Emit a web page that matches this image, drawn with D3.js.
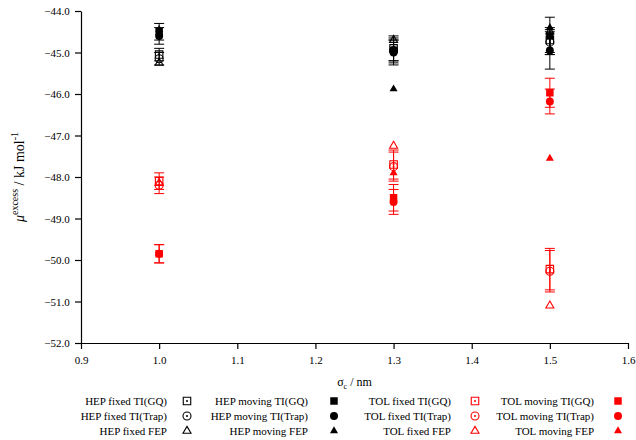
<!DOCTYPE html>
<html>
<head>
<meta charset="utf-8">
<script src="https://cdn.jsdelivr.net/npm/d3@7"></script>
<style>
body { margin: 0; background: #fff; }
text { font-family: "Liberation Serif", "Times New Roman", serif; }
</style>
</head>
<body>
<div id="chart"></div>
<script>
const chart_width = 636;
const chart_height = 440;

// sigma_c values
const sigma = [1.0, 1.3, 1.5];
const x_ticks = [0.9, 1.0, 1.1, 1.2, 1.3, 1.4, 1.5, 1.6];
const y_ticks = [-44, -45, -46, -47, -48, -49, -50, -51, -52];

// HEP fixed (black, open)
const hep_fixed_gq = [-45.05, -44.9, -44.7];
const hep_fixed_gq_err = [0.15, 0.3, 0.3];
const hep_fixed_trap = [-45.15, -44.95, -44.75];
const hep_fixed_trap_err = [0.15, 0.25, 0.3];
const hep_fixed_fep = [-45.25, -44.7, -44.5];
// HEP moving (black, filled)
const hep_moving_gq = [-44.5, -44.95, -44.6];
const hep_moving_gq_err = [0.2, 0.3, 0.45];
const hep_moving_trap = [-44.6, -45.0, -44.95];
const hep_moving_trap_err = [0.2, 0.3, 0.45];
const hep_moving_fep = [-44.45, -45.88, -44.4];
// TOL fixed (red, open)
const tol_fixed_gq = [-48.1, -47.7, -50.22];
const tol_fixed_gq_err = [0.2, 0.35, 0.5];
const tol_fixed_trap = [-48.2, -47.75, -50.27];
const tol_fixed_trap_err = [0.2, 0.35, 0.5];
const tol_fixed_fep = [-48.15, -47.25, -51.1];
// TOL moving (red, filled)
const tol_moving_gq = [-49.85, -48.5, -45.97];
const tol_moving_gq_err = [0.22, 0.32, 0.35];
const tol_moving_trap = [-49.85, -48.6, -46.18];
const tol_moving_trap_err = [0.22, 0.3, 0.3];
const tol_moving_fep = [-49.85, -47.9, -47.55];

const series = [
    {name: 'HEP fixed TI(GQ)', v: hep_fixed_gq, err: hep_fixed_gq_err, shape: 'square', color: '#000', filled: false},
    {name: 'HEP moving TI(GQ)', v: hep_moving_gq, err: hep_moving_gq_err, shape: 'square', color: '#000', filled: true},
    {name: 'TOL fixed TI(GQ)', v: tol_fixed_gq, err: tol_fixed_gq_err, shape: 'square', color: '#f00', filled: false},
    {name: 'TOL moving TI(GQ)', v: tol_moving_gq, err: tol_moving_gq_err, shape: 'square', color: '#f00', filled: true},
    {name: 'HEP fixed TI(Trap)', v: hep_fixed_trap, err: hep_fixed_trap_err, shape: 'circle', color: '#000', filled: false},
    {name: 'HEP moving TI(Trap)', v: hep_moving_trap, err: hep_moving_trap_err, shape: 'circle', color: '#000', filled: true},
    {name: 'TOL fixed TI(Trap)', v: tol_fixed_trap, err: tol_fixed_trap_err, shape: 'circle', color: '#f00', filled: false},
    {name: 'TOL moving TI(Trap)', v: tol_moving_trap, err: tol_moving_trap_err, shape: 'circle', color: '#f00', filled: true},
    {name: 'HEP fixed FEP', v: hep_fixed_fep, err: null, shape: 'triangle', color: '#000', filled: false},
    {name: 'HEP moving FEP', v: hep_moving_fep, err: null, shape: 'triangle', color: '#000', filled: true},
    {name: 'TOL fixed FEP', v: tol_fixed_fep, err: null, shape: 'triangle', color: '#f00', filled: false},
    {name: 'TOL moving FEP', v: tol_moving_fep, err: null, shape: 'triangle', color: '#f00', filled: true}
];

const plot = {left: 81, right: 628, top: 11, bottom: 343};

const svg = d3.select('#chart')
    .append('svg')
    .attr('width', chart_width)
    .attr('height', chart_height);

// Scales
const x_scale = d3.scaleLinear()
    .domain([0.9, 1.6])
    .range([plot.left, plot.right]);

const y_scale = d3.scaleLinear()
    .domain([-52, -44])
    .range([plot.bottom, plot.top]);

// Axes
const x_axis = d3.axisBottom(x_scale)
    .tickValues(x_ticks)
    .tickSize(6)
    .tickSizeOuter(0)
    .tickFormat(d3.format('.1f'));

svg.append('g')
    .attr('class', 'x-axis')
    .attr('transform', 'translate(0,' + plot.bottom + ')')
    .call(x_axis);

const y_axis = d3.axisLeft(y_scale)
    .tickValues(y_ticks)
    .tickSize(6)
    .tickSizeOuter(0)
    .tickFormat(d3.format('.1f'));

svg.append('g')
    .attr('class', 'y-axis')
    .attr('transform', 'translate(' + plot.left + ',0)')
    .call(y_axis);

svg.selectAll('.x-axis, .y-axis').attr('font-family', null);
svg.selectAll('.x-axis text, .y-axis text')
    .attr('font-size', 11)
    .attr('fill', '#000');
svg.selectAll('.x-axis text').attr('dy', '1.1em');
svg.selectAll('.y-axis text').attr('dx', '-0.2em');
svg.selectAll('.domain, .tick line').attr('stroke', '#000').attr('stroke-width', 1.2);

// Axis titles
const xl = svg.append('text')
    .attr('x', (plot.left + plot.right) / 2)
    .attr('y', 386)
    .attr('text-anchor', 'middle')
    .attr('font-size', 12);
xl.append('tspan').text('σ');
xl.append('tspan').attr('font-size', 8).attr('dy', 3).text('c');
xl.append('tspan').attr('dy', -3).text(' / nm');

const yl = svg.append('text')
    .attr('transform', 'translate(24,' + ((plot.top + plot.bottom) / 2) + ') rotate(-90)')
    .attr('text-anchor', 'middle')
    .attr('font-size', 14);
yl.append('tspan').attr('font-style', 'italic').text('μ');
yl.append('tspan').attr('font-size', 10).attr('dy', -6).text('excess');
yl.append('tspan').attr('dy', 6).text(' / kJ mol');
yl.append('tspan').attr('font-size', 10).attr('dy', -6).text('-1');

// Markers
const shapes = {
    square: d3.symbol(d3.symbolSquare, 56),
    circle: d3.symbol(d3.symbolCircle, 50),
    triangle: d3.symbol(d3.symbolTriangle, 28)
};

function drawMarker(g, s) {
    g.append('path')
        .attr('d', shapes[s.shape]())
        .attr('fill', s.filled ? s.color : '#fff')
        .attr('fill-opacity', s.filled ? 1 : 0)
        .attr('stroke', s.color)
        .attr('stroke-width', s.filled ? 0 : 1.1);
    if (!s.filled && s.shape !== 'triangle') {
        g.append('circle').attr('r', 1).attr('fill', s.color);
    }
}

const cap = 5;
series.forEach(s => {
    const g = svg.append('g').attr('class', 'series');
    if (s.err) {
        sigma.forEach((x, i) => {
            const cx = x_scale(x);
            const y0 = y_scale(s.v[i] - s.err[i]);
            const y1 = y_scale(s.v[i] + s.err[i]);
            g.append('line').attr('x1', cx).attr('x2', cx).attr('y1', y0).attr('y2', y1)
                .attr('stroke', s.color).attr('stroke-width', 1);
            [y0, y1].forEach(yy => {
                g.append('line').attr('x1', cx - cap).attr('x2', cx + cap).attr('y1', yy).attr('y2', yy)
                    .attr('stroke', s.color).attr('stroke-width', 1);
            });
        });
    }
    sigma.forEach((x, i) => {
        const m = g.append('g')
            .attr('transform', 'translate(' + x_scale(x) + ',' + y_scale(s.v[i]) + ')');
        drawMarker(m, s);
    });
});

// Legend: 3 rows x 4 columns, text right-aligned then marker
const col_text = [167, 308, 451, 594];
const col_mark = [187, 334, 475, 618];
const row_y = [401, 416, 431];

series.forEach((s, i) => {
    const col = i % 4;
    const row = Math.floor(i / 4);
    svg.append('text')
        .attr('x', col_text[col])
        .attr('y', row_y[row] + 4)
        .attr('text-anchor', 'end')
        .attr('font-size', 11)
        .text(s.name);
    const m = svg.append('g')
        .attr('transform', 'translate(' + col_mark[col] + ',' + row_y[row] + ')');
    drawMarker(m, s);
});
</script>
</body>
</html>
